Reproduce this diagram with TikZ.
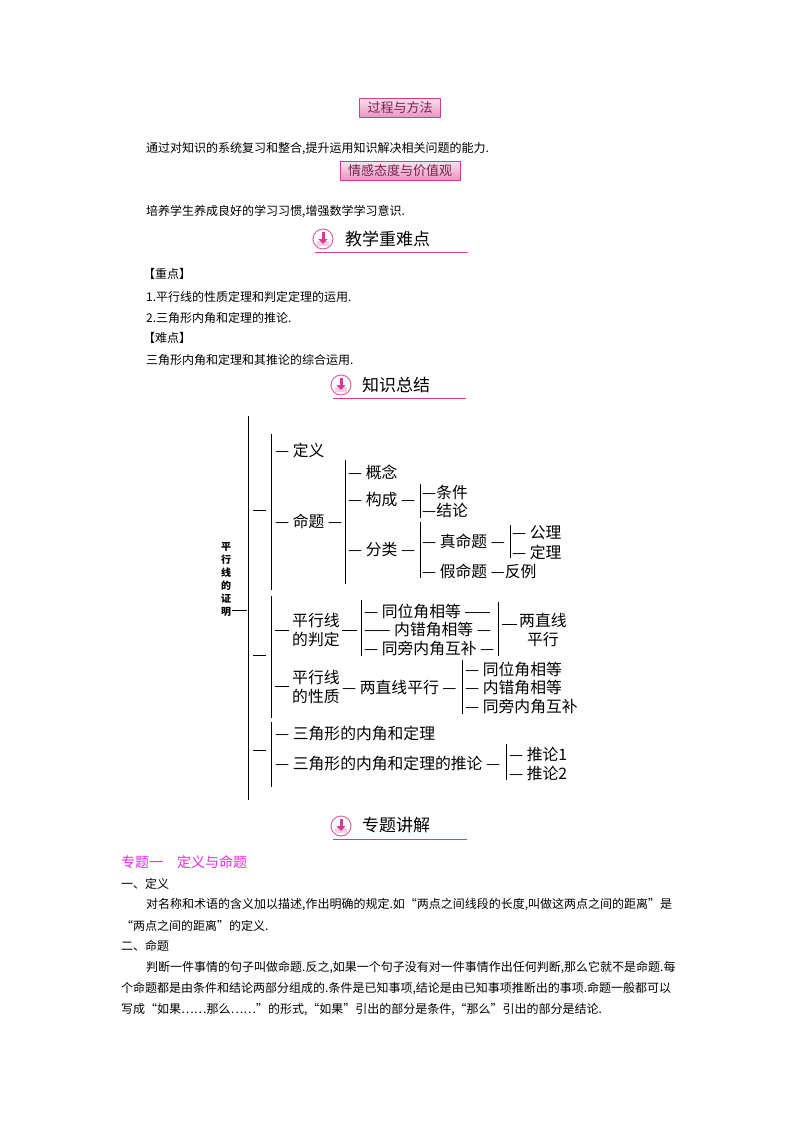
\documentclass[tikz,border=0pt]{standalone}
\usepackage{fontspec}
\setmainfont{Noto Sans CJK SC}
\usetikzlibrary{arrows.meta}
\definecolor{pk}{RGB}{214,60,140}
\definecolor{mg}{RGB}{240,40,230}
\tikzset{
 body/.style={anchor=west,inner sep=0pt,font=\fontsize{12}{14}\selectfont},
 tr/.style={anchor=west,inner sep=0pt,font=\fontsize{15.8}{18}\selectfont},
 trl/.style={anchor=west,inner sep=0pt,align=left,font=\fontsize{15.8}{19}\selectfont},
 ln/.style={line width=0.8pt},
 badge/.style={draw=pk,line width=1pt,top color=pk!15,bottom color=pk!55,text=pk!55!black,minimum height=19pt,inner xsep=8pt,font=\fontsize{13}{15}\selectfont},
 head/.style={anchor=west,inner sep=0pt,font=\fontsize{17}{20}\selectfont}
}
\newcommand{\hicon}[3]{% x y underline-length
 \draw[pk,line width=1pt] (#1+#3,#2+13) -- (#1-8,#2+13);
 \draw[pk!80,line width=1pt,fill=white] (#1,#2) circle (10);
 \fill[pk!25] (#1-6,#2+2) rectangle (#1+6,#2+7);
 \draw[pk,line width=3pt,-{Triangle[length=5pt,width=9pt]}] (#1,#2-7) -- (#1,#2+5);
}
\begin{document}
\begin{tikzpicture}[x=1pt,y=-1pt]
\useasboundingbox[fill=white] (0,0) rectangle (800,1132);
\node[badge] (b1) at (400,108) {过程与方法};
\node[body] (t1) at (146,149) {通过对知识的系统复习和整合,提升运用知识解决相关问题的能力.};
\node[badge] (b2) at (400,171) {情感态度与价值观};
\node[body] (t2) at (146,212) {培养学生养成良好的学习习惯,增强数学学习意识.};
\hicon{323}{239}{145}
\node[head] (h1) at (345,239) {教学重难点};
\node[body] (z1) at (143,274) {【重点】};
\node[body] (z2) at (146,297) {1.平行线的性质定理和判定定理的运用.};
\node[body] (z3) at (146,318) {2.三角形内角和定理的推论.};
\node[body] (z4) at (143,338) {【难点】};
\node[body] (z5) at (146,360) {三角形内角和定理和其推论的综合运用.};
\hicon{341}{385}{125}
\node[head] (h2) at (362,385) {知识总结};
% tree
\draw[ln] (248,416) -- (248,800);
\node[align=center,inner sep=0pt,font=\bfseries\fontsize{10}{13}\selectfont] (root) at (226,580) {平\\行\\线\\的\\证\\明};
\draw[ln] (232,610) -- (247,610);
\draw[ln] (253,510) -- (266,510); \draw[ln] (271,434) -- (271,590);
\draw[ln] (253,655) -- (266,655); \draw[ln] (271,596) -- (271,718);
\draw[ln] (253,750) -- (266,750); \draw[ln] (271,722) -- (271,787);
\node[tr] (dy) at (275,450) {— 定义};
\node[tr] (mt) at (275,521) {— 命题 —};
\draw[ln] (345,460) -- (345,584);
\node[tr] (gn) at (348,472) {— 概念};
\node[tr] (gc) at (348,500) {— 构成 —};
\draw[ln] (420,484) -- (420,518);
\node[tr] (tj) at (422,492) {—条件};
\node[tr] (jl) at (422,510) {—结论};
\node[tr] (fl) at (348,550) {— 分类 —};
\draw[ln] (420,522) -- (420,578);
\node[tr] (zm) at (422,541) {— 真命题 —};
\draw[ln] (510,525) -- (510,558);
\node[tr] (gl) at (512,533) {— 公理};
\node[tr] (dl) at (512,552) {— 定理};
\node[tr] (jm) at (422,571) {— 假命题 —反例};
\draw[ln] (275,630) -- (289,630);
\node[trl] (pd) at (292,630) {平行线\\的判定};
\draw[ln] (342,630) -- (357,630);
\draw[ln] (361,600) -- (361,656);
\node[tr] (p1) at (364,611) {— 同位角相等 ——};
\node[tr] (p2) at (364,630) {—— 内错角相等 —};
\node[tr] (p3) at (364,648) {— 同旁内角互补 —};
\draw[ln] (498,602) -- (498,656);
\draw[ln] (502,624) -- (517,624);
\node[trl,align=center] (px) at (519,630) {两直线\\平行};
\draw[ln] (275,686) -- (289,686);
\node[trl] (xz) at (292,687) {平行线\\的性质};
\node[tr] (lz) at (342,687) {— 两直线平行 —};
\draw[ln] (462,660) -- (462,714);
\node[tr] (q1) at (465,669) {— 同位角相等};
\node[tr] (q2) at (465,688) {— 内错角相等};
\node[tr] (q3) at (465,706) {— 同旁内角互补};
\node[tr] (s1) at (275,733) {— 三角形的内角和定理};
\node[tr] (s2) at (275,763) {— 三角形的内角和定理的推论 —};
\draw[ln] (506,744) -- (506,780);
\node[tr] (r1) at (509,754) {— 推论1};
\node[tr] (r2) at (509,773) {— 推论2};
\hicon{341}{826}{126}
\node[head] (h3) at (362,825) {专题讲解};
\node[body,text=mg,font=\fontsize{14}{16}\selectfont] (zt) at (121,862) {专题一\quad 定义与命题};
\node[body] (a1) at (121,884) {一、定义};
\node[body] (a2) at (146,905) {对名称和术语的含义加以描述,作出明确的规定.如“两点之间线段的长度,叫做这两点之间的距离”是};
\node[body] (a3) at (121,926) {“两点之间的距离”的定义.};
\node[body] (a4) at (121,946) {二、命题};
\node[body] (a5) at (146,968) {判断一件事情的句子叫做命题.反之,如果一个句子没有对一件事情作出任何判断,那么它就不是命题.每};
\node[body] (a6) at (121,989) {个命题都是由条件和结论两部分组成的.条件是已知事项,结论是由已知事项推断出的事项.命题一般都可以};
\node[body] (a7) at (121,1010) {写成“如果……那么……”的形式,“如果”引出的部分是条件,“那么”引出的部分是结论.};
\end{tikzpicture}
\end{document}
